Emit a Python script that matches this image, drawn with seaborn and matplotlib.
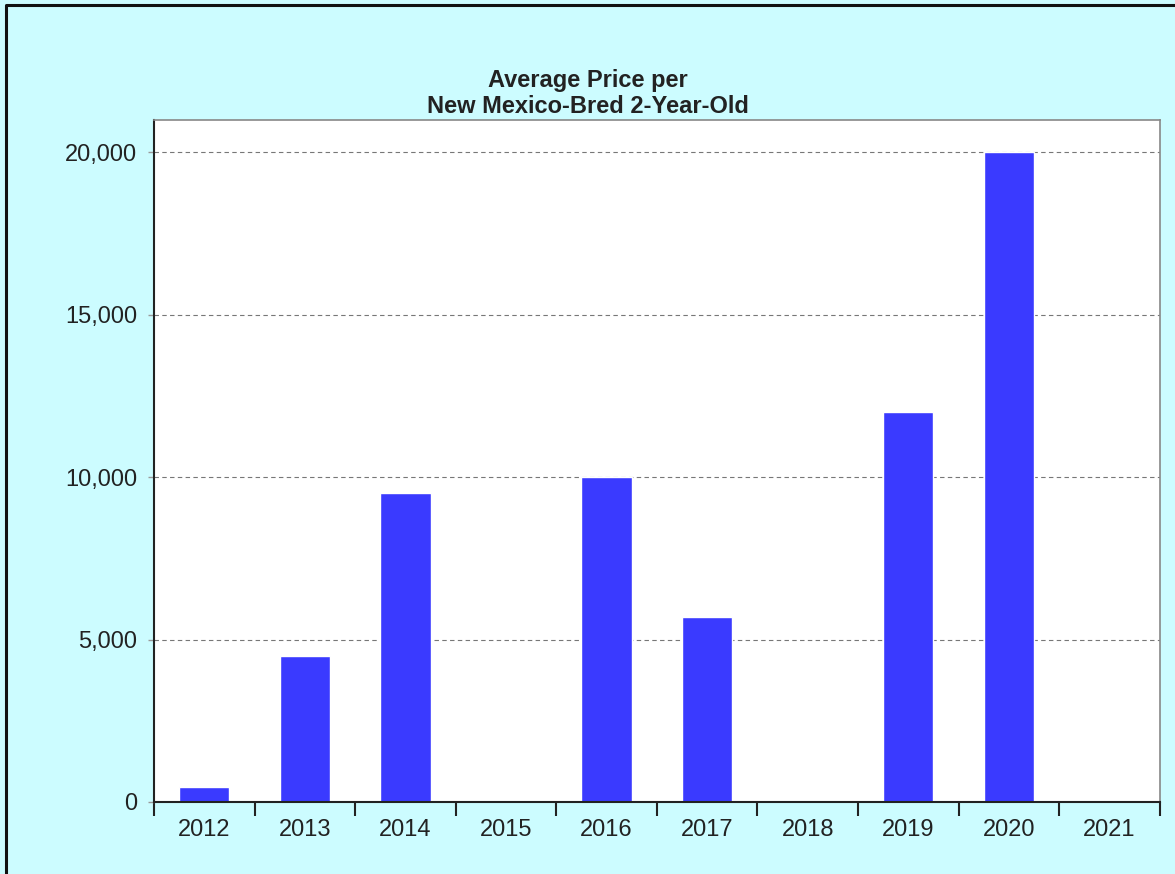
import matplotlib
matplotlib.use("Agg")
import matplotlib.pyplot as plt
import matplotlib.ticker as mticker
from matplotlib.lines import Line2D
import numpy as np
import pandas as pd
import seaborn as sns

years = ["2012", "2013", "2014", "2015", "2016", "2017", "2018", "2019", "2020", "2021"]
avg_price = [450, 4500, 9500, 0, 10000, 5700, 0, 12000, 20000, 0]
y_ticks = [0, 5000, 10000, 15000, 20000]

df = pd.DataFrame({"Year": years, "Price": avg_price})

sns.set_style("white")
plt.rcParams["font.family"] = ["Liberation Sans", "DejaVu Sans"]

bg = "#ccfcff"
fig = plt.figure(figsize=(11.75, 8.74), dpi=100, facecolor=bg)
ax = fig.add_axes([0.131, 0.0824, 0.856, 0.7803])
ax.set_facecolor("white")

sns.barplot(data=df, x="Year", y="Price", order=years, color="#3a3aff",
            saturation=1, width=0.5, ax=ax)

ax.set_xlim(-0.5, len(years) - 0.5)
ax.set_ylim(0, 21000)
ax.set_yticks(y_ticks)
ax.yaxis.set_major_formatter(mticker.FuncFormatter(lambda v, p: f"{int(v):,}"))
ax.grid(axis="y", color="#777777", linestyle=(0, (4, 3)), linewidth=0.8)
ax.set_axisbelow(True)

ax.set_xlabel("")
ax.set_ylabel("")
ax.tick_params(axis="x", which="both", bottom=True)
ax.tick_params(axis="y", which="both", left=True)
ax.tick_params(axis="x", which="major", length=0, pad=12, labelsize=17, colors="#222222")
ax.set_xticks(np.arange(-0.5, len(years), 1.0), minor=True)
ax.tick_params(axis="x", which="minor", length=10, width=1.5, color="#222222", direction="out")
ax.tick_params(axis="y", length=4, width=1, color="#999999", pad=8, labelsize=17, labelcolor="#222222")

for side in ["left", "bottom"]:
    ax.spines[side].set_color("#222222")
    ax.spines[side].set_linewidth(1.5)
for side in ["top", "right"]:
    ax.spines[side].set_color("#888888")
    ax.spines[side].set_linewidth(1.2)

fig.text(0.5, 0.893, "Average Price per\nNew Mexico-Bred 2-Year-Old", ha="center", va="center",
         fontsize=17, fontweight="bold", color="#222222", linespacing=1.12)

# outer frame: only the top and left edges are drawn in the original
fig.lines.append(Line2D([0.005, 0.005, 1.0], [0.0, 0.9938, 0.9938], transform=fig.transFigure,
                        color="#111111", linewidth=2.2))

fig.savefig("out.png", dpi=100, facecolor=bg)
